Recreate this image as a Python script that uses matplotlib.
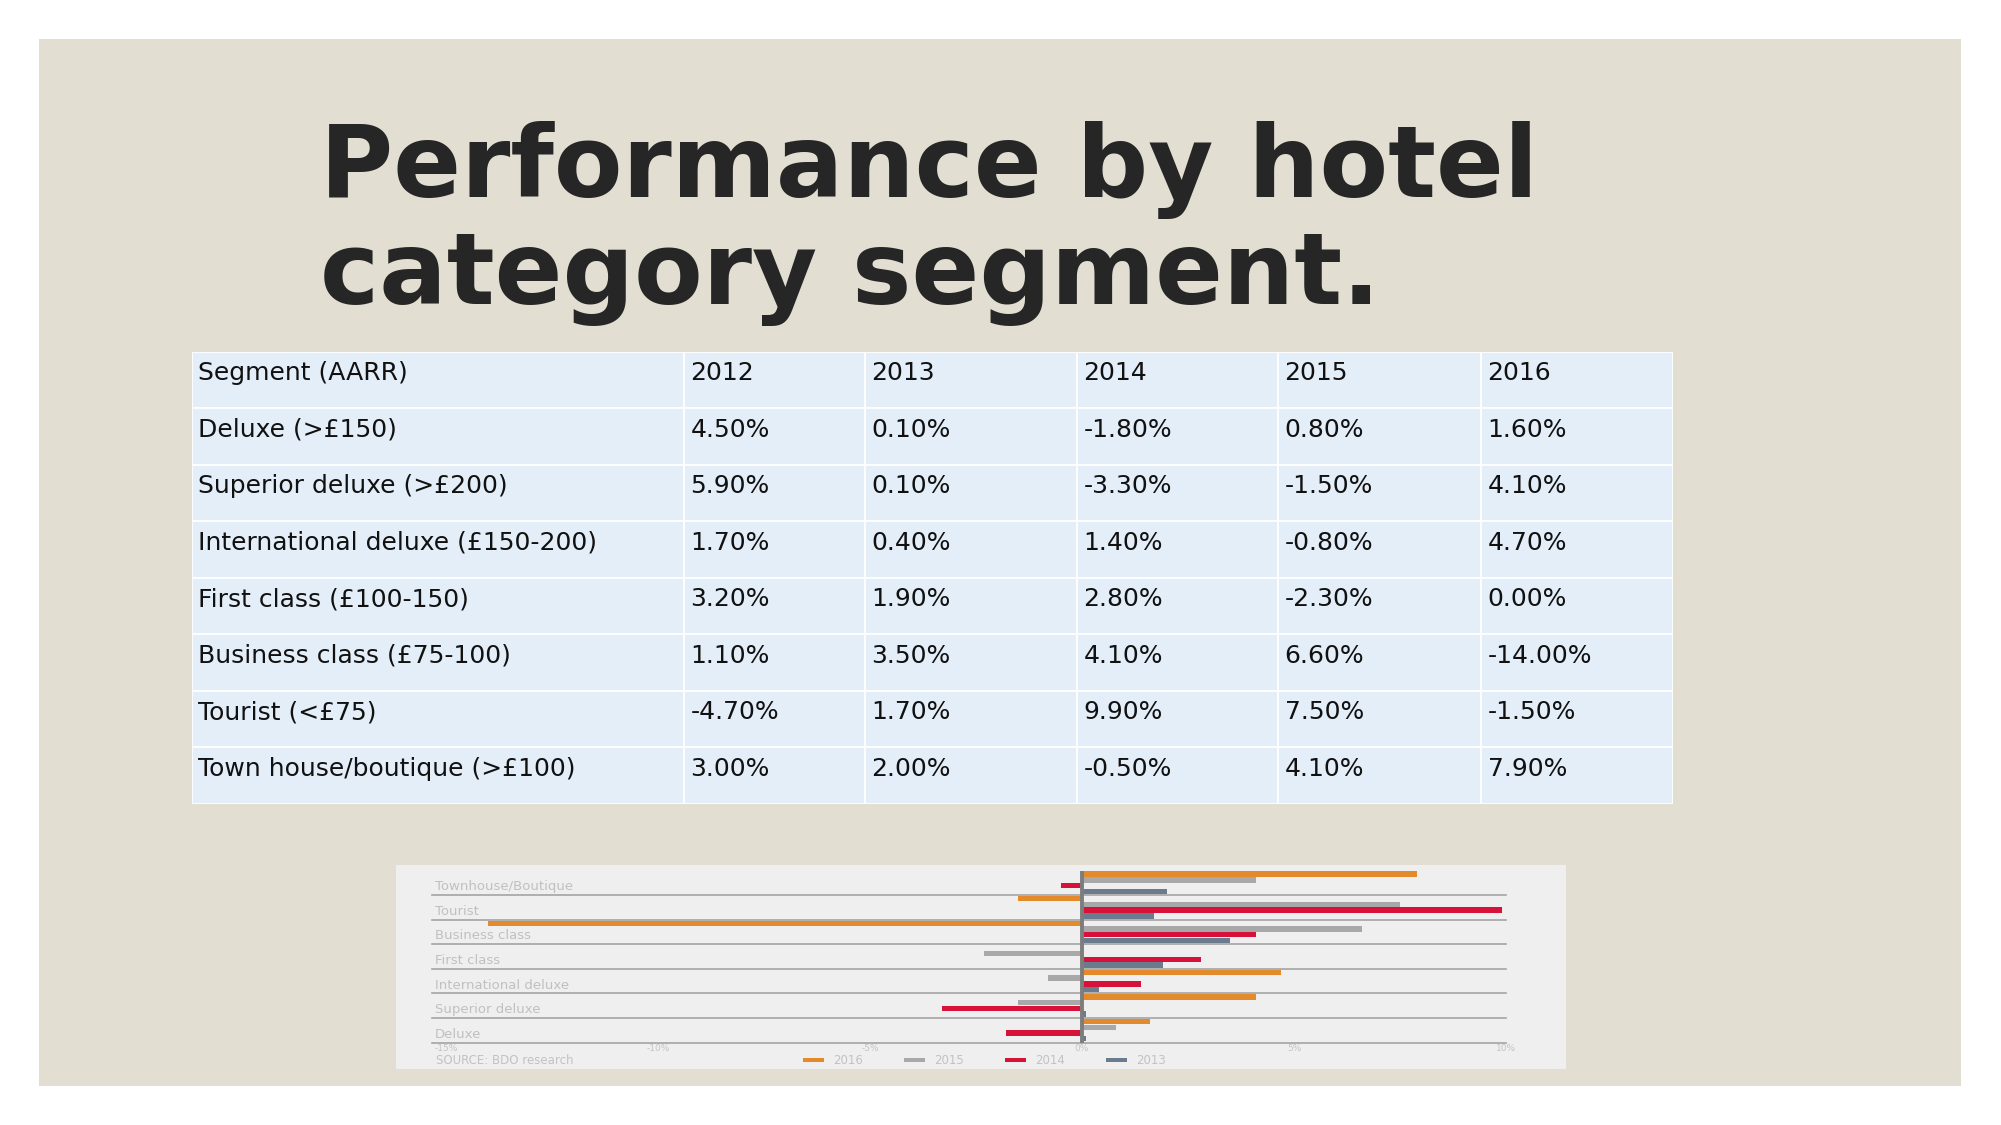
import matplotlib
matplotlib.use("Agg")
import matplotlib.pyplot as plt
from matplotlib.patches import Rectangle
from matplotlib.transforms import blended_transform_factory
import numpy as np

W, H = 2001, 1125

# ---------------- data ----------------
title_lines = ["Performance by hotel", "category segment."]
header = ["Segment (AARR)", "2012", "2013", "2014", "2015", "2016"]
segments = ["Deluxe (>£150)", "Superior deluxe (>£200)", "International deluxe (£150-200)",
            "First class (£100-150)", "Business class (£75-100)", "Tourist (<£75)",
            "Town house/boutique (>£100)"]
v2012 = [4.5, 5.9, 1.7, 3.2, 1.1, -4.7, 3.0]
v2013 = [0.1, 0.1, 0.4, 1.9, 3.5, 1.7, 2.0]
v2014 = [-1.8, -3.3, 1.4, 2.8, 4.1, 9.9, -0.5]
v2015 = [0.8, -1.5, -0.8, -2.3, 6.6, 7.5, 4.1]
v2016 = [1.6, 4.1, 4.7, 0.0, -14.0, -1.5, 7.9]

chart_labels = ["Deluxe", "Superior deluxe", "International deluxe", "First class",
                "Business class", "Tourist", "Townhouse/Boutique"]
chart_years = ["2016", "2015", "2014", "2013"]
chart_series = [v2016, v2015, v2014, v2013]
chart_colors = ["#e38a2d", "#a8a8a8", "#d6123b", "#6b7b8e"]
tick_values = [-15, -10, -5, 0, 5, 10]
tick_labels = ["-15%", "-10%", "-5%", "0%", "5%", "10%"]
source_text = "SOURCE: BDO research"

# ---------------- figure ----------------
fig = plt.figure(figsize=(W / 100, H / 100), dpi=100)
fig.patch.set_facecolor("white")


def fx(x):
    return x / W


def fy(y):
    return 1 - y / H


def frect(x0, y0, x1, y1, **kw):
    fig.add_artist(Rectangle((fx(x0), fy(y1)), fx(x1) - fx(x0), fy(y0) - fy(y1),
                             transform=fig.transFigure, **kw))


# slide background and chart panel (behind axes)
frect(39, 39, 1961, 1086, facecolor="#e2ded1", edgecolor="none", zorder=-3)
frect(396, 865, 1566, 1069, facecolor="#efefef", edgecolor="none", zorder=-2)

# title
for i, line in enumerate(title_lines):
    fig.text(fx(320), fy(197 + i * 107), line, fontsize=72, fontweight="bold",
             color="#262626", ha="left", va="baseline", family="DejaVu Sans")

# ---------------- table ----------------
col_edges = [191.5, 684, 865, 1077, 1278, 1481, 1673]
top, bottom = 351.7, 804
axt = fig.add_axes([fx(col_edges[0]), fy(bottom), fx(col_edges[-1]) - fx(col_edges[0]),
                    fy(top) - fy(bottom)])
axt.set_xlim(col_edges[0], col_edges[-1])
axt.set_ylim(bottom, top)
axt.axis("off")
rows = [header] + [[s] + [f"{v:.2f}%" for v in vals]
                   for s, vals in zip(segments, zip(v2012, v2013, v2014, v2015, v2016))]
nrows = len(rows)
rh = (bottom - top) / nrows
for r, row in enumerate(rows):
    y0 = top + r * rh
    for c, txt in enumerate(row):
        x0, x1 = col_edges[c], col_edges[c + 1]
        axt.add_patch(Rectangle((x0, y0), x1 - x0, rh, facecolor="#e4eef8",
                                edgecolor="white", linewidth=1.2))
        axt.text(x0 + 6.5, y0 + 28.5, txt, fontsize=18, color="#111111",
                 ha="left", va="baseline")

# ---------------- small chart ----------------
ax = fig.add_axes([fx(432), fy(1042.5), fx(1506) - fx(432), fy(870.5) - fy(1042.5)])
ax.set_facecolor("none")
ax.set_xlim(-15.33, 10.0)
n = len(chart_labels)
ax.set_ylim(n, 0)
order = list(range(n))[::-1]  # top: Townhouse ... bottom: Deluxe
band = np.arange(n)
for k, (vals, col) in enumerate(zip(chart_series, chart_colors)):
    v = [vals[i] for i in order]
    ax.barh(band + 0.15 + k * 0.232, v, height=0.22, color=col, zorder=2)
for i in range(1, n + 1):
    ax.axhline(i, color="#a4a4a4", lw=1.2, zorder=1, clip_on=False)
ax.axvline(0, ymin=0, ymax=0.99, color="#7d7d7d", lw=2.8, zorder=3)
tr = blended_transform_factory(ax.transAxes, ax.transData)
for i, idx in enumerate(order):
    ax.text(0.003, i + 0.93, chart_labels[idx], transform=tr, fontsize=9.5,
            color="#c0c0c0", ha="left", va="bottom")
for s in ax.spines.values():
    s.set_visible(False)
ax.set_xticks(tick_values)
ax.set_xticklabels(tick_labels, fontsize=6.5, color="#c4c4c4")
ax.tick_params(axis="x", length=0, pad=1)
ax.set_yticks([])

# source + legend
fig.text(fx(436), fy(1060), source_text, fontsize=8.5, color="#c2c2c2", ha="left", va="center")
for k, (yr, col) in enumerate(zip(chart_years, chart_colors)):
    x0 = 803 + k * 101
    frect(x0, 1058, x0 + 21, 1062, facecolor=col, edgecolor="none", zorder=3)
    fig.text(fx(x0 + 30), fy(1060), yr, fontsize=8.5, color="#c2c2c2", ha="left", va="center")

fig.savefig("out.png", dpi=100, facecolor=fig.get_facecolor())
